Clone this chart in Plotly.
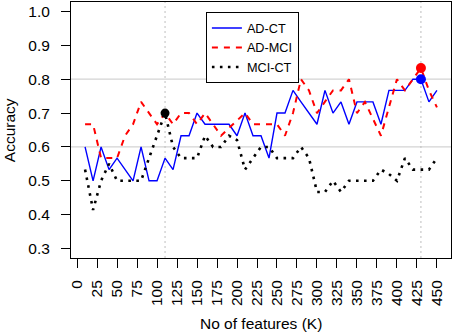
import plotly.graph_objects as go

# ---- data ----
features = [10, 20, 30, 40, 50, 60, 70, 80, 90, 100,
            110, 120, 130, 140, 150, 160, 170, 180, 190, 200,
            210, 220, 230, 240, 250, 260, 270, 280, 290, 300,
            310, 320, 330, 340, 350, 360, 370, 380, 390, 400,
            410, 420, 430, 440, 450]

ad_ct = [0.600, 0.500, 0.600, 0.533, 0.567, 0.533, 0.500, 0.600, 0.500, 0.500,
         0.567, 0.533, 0.633, 0.633, 0.700, 0.667, 0.667, 0.667, 0.667, 0.633,
         0.700, 0.633, 0.633, 0.567, 0.700, 0.700, 0.767, 0.733, 0.700, 0.667,
         0.767, 0.700, 0.733, 0.667, 0.733, 0.733, 0.733, 0.667, 0.767, 0.767,
         0.767, 0.800, 0.800, 0.733, 0.767]

ad_mci = [0.667, 0.667, 0.567, 0.567, 0.567, 0.633, 0.667, 0.733, 0.700, 0.667,
          0.700, 0.667, 0.700, 0.700, 0.667, 0.700, 0.667, 0.633, 0.656, 0.678,
          0.700, 0.667, 0.667, 0.667, 0.667, 0.633, 0.700, 0.800, 0.767, 0.700,
          0.733, 0.767, 0.767, 0.800, 0.700, 0.733, 0.683, 0.633, 0.717, 0.800,
          0.767, 0.800, 0.833, 0.767, 0.717]

mci_ct = [0.533, 0.414, 0.500, 0.550, 0.500, 0.500, 0.500, 0.500, 0.567, 0.633,
          0.700, 0.600, 0.567, 0.567, 0.567, 0.633, 0.600, 0.600, 0.633, 0.620,
          0.533, 0.567, 0.600, 0.600, 0.567, 0.567, 0.567, 0.600, 0.567, 0.467,
          0.467, 0.500, 0.467, 0.500, 0.500, 0.500, 0.500, 0.533, 0.520, 0.500,
          0.567, 0.533, 0.533, 0.533, 0.567]

# best points (highlighted)
best_mci_ct_k = [110]
best_mci_ct_acc = [0.700]
best_ad_mci_k = [430]
best_ad_mci_acc = [0.833]
best_ad_ct_k = [430]
best_ad_ct_acc = [0.800]

x_ticks = list(range(0, 451, 25))
x_ticklabels = [str(v) for v in x_ticks]
y_ticks = [0.3, 0.4, 0.5, 0.6, 0.7, 0.8, 0.9, 1.0]
y_ticklabels = ["0.3", "0.4", "0.5", "0.6", "0.7", "0.8", "0.9", "1.0"]
h_ref = [0.6, 0.8]
v_ref = [110, 430]

FONT = "Liberation Sans, Arial, sans-serif"

fig = go.Figure()

fig.add_trace(go.Scatter(x=features, y=ad_ct, mode="lines", name="AD-CT",
                         line=dict(color="#0000ff", width=1.4)))
fig.add_trace(go.Scatter(x=features, y=ad_mci, mode="lines", name="AD-MCI",
                         line=dict(color="#ff0000", width=2, dash="6px,6px")))
fig.add_trace(go.Scatter(x=features, y=mci_ct, mode="lines", name="MCI-CT",
                         line=dict(color="#000000", width=2.6, dash="2.6px,5.4px")))

fig.add_trace(go.Scatter(x=best_mci_ct_k, y=best_mci_ct_acc, mode="markers", showlegend=False,
                         marker=dict(color="#000000", size=9)))
fig.add_trace(go.Scatter(x=best_ad_mci_k, y=best_ad_mci_acc, mode="markers", showlegend=False,
                         marker=dict(color="#ff0000", size=10)))
fig.add_trace(go.Scatter(x=best_ad_ct_k, y=best_ad_ct_acc, mode="markers", showlegend=False,
                         marker=dict(color="#0000ff", size=10)))

for h in h_ref:
    fig.add_shape(type="line", xref="paper", x0=0, x1=1, yref="y", y0=h, y1=h,
                  line=dict(color="#d3d3d3", width=1.2), layer="below")
for v in v_ref:
    fig.add_shape(type="line", yref="paper", y0=0, y1=1, xref="x", x0=v, x1=v,
                  line=dict(color="#bebebe", width=1, dash="2px,3px"), layer="below")

axis_common = dict(ticks="outside", ticklen=9, tickwidth=1, tickcolor="black",
                   showline=True, linecolor="black", linewidth=1, mirror=True,
                   showgrid=False, zeroline=False, automargin=False,
                   tickfont=dict(family=FONT, size=15.5, color="black"))

fig.update_layout(
    template="none",
    width=454, height=335, autosize=False,
    margin=dict(l=71, r=3, t=2, b=77, pad=0),
    plot_bgcolor="white", paper_bgcolor="white",
    font=dict(family=FONT, color="black"),
    xaxis=dict(range=[-7.6, 467.6], tickmode="array", tickvals=x_ticks,
               ticktext=x_ticklabels, tickangle=-90, ticklabelstandoff=6, **axis_common),
    yaxis=dict(range=[0.272, 1.028], tickmode="array", tickvals=y_ticks,
               ticktext=y_ticklabels, ticklabelstandoff=8, **axis_common),
    legend=dict(x=0.355, y=0.96, xanchor="left", yanchor="top",
                bordercolor="black", borderwidth=1, bgcolor="white",
                font=dict(family=FONT, size=12.7, color="black"),
                tracegroupgap=0, itemwidth=30),
    annotations=[
        dict(text="Accuracy", xref="paper", yref="paper", x=-0.1626, y=0.5,
             textangle=-90, showarrow=False, xanchor="center", yanchor="middle",
             font=dict(family=FONT, size=15.5, color="black")),
        dict(text="No of features (K)", xref="paper", yref="paper", x=0.5, y=-0.2554,
             showarrow=False, xanchor="center", yanchor="middle",
             font=dict(family=FONT, size=15.5, color="black")),
    ],
)

fig.write_html("out.html",
               config={"displayModeBar": False},
               post_script="document.body.style.margin='0px';document.body.style.padding='0px';")
